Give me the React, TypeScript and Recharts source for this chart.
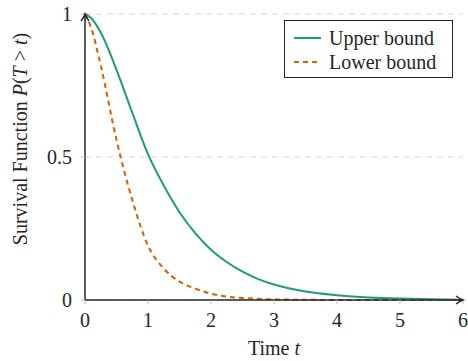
import {
  LineChart,
  Line,
  XAxis,
  YAxis,
  CartesianGrid,
  ReferenceDot,
  Label,
} from "recharts";

// time points (t) and survival values
const times = [0, 0.1, 0.25, 0.5, 0.75, 1, 1.25, 1.5, 1.75, 2, 2.25, 2.5, 2.75, 3, 3.5, 4, 4.5, 5, 5.5, 6];
const upperBound = [1, 0.985, 0.935, 0.805, 0.655, 0.51, 0.4, 0.307, 0.234, 0.176, 0.133, 0.099, 0.073, 0.054, 0.03, 0.017, 0.009, 0.005, 0.003, 0.001];
const lowerBound = [1, 0.95, 0.82, 0.56, 0.35, 0.19, 0.11, 0.064, 0.04, 0.022, 0.012, 0.007, 0.004, 0.002, 0.001, 0, 0, 0, 0, 0];

const xTicks = [0, 1, 2, 3, 4, 5, 6];
const yTicks = [0, 0.5, 1];

const GREEN = "#1b9e77";
const ORANGE = "#d95f02";
const INK = "#262626";
const FONT = "'Liberation Serif', 'DejaVu Serif', serif";

const data = times.map((t, i) => ({ t, upper: upperBound[i], lower: lowerBound[i] }));

const RightArrow = ({ cx, cy }: any) => (
  <path
    d={`M ${cx - 7} ${cy - 4} Q ${cx - 3} ${cy - 1} ${cx} ${cy} Q ${cx - 3} ${cy + 1} ${cx - 7} ${cy + 4}`}
    fill="none"
    stroke={INK}
    strokeWidth={1.4}
  />
);

const UpArrow = ({ cx, cy }: any) => (
  <path
    d={`M ${cx - 4} ${cy + 7} Q ${cx - 1} ${cy + 3} ${cx} ${cy} Q ${cx + 1} ${cy + 3} ${cx + 4} ${cy + 7}`}
    fill="none"
    stroke={INK}
    strokeWidth={1.4}
  />
);

const XLabel = ({ viewBox }: any) => (
  <text
    x={viewBox.x + viewBox.width / 2}
    y={355}
    textAnchor="middle"
    fontFamily={FONT}
    fontSize={20}
    fill={INK}
  >
    Time <tspan fontStyle="italic">t</tspan>
  </text>
);

const YLabel = () => (
  <text
    transform="translate(27,139) rotate(-90)"
    textAnchor="middle"
    fontFamily={FONT}
    fontSize={20}
    fill={INK}
  >
    Survival Function <tspan fontStyle="italic">P</tspan>(<tspan fontStyle="italic">T</tspan> {">"}{" "}
    <tspan fontStyle="italic">t</tspan>)
  </text>
);

function LegendBox() {
  const row = (color: string, dash: string | undefined, text: string) => (
    <div style={{ display: "flex", alignItems: "center", height: 24 }}>
      <svg width={36} height={10}>
        <line x1={1} y1={5} x2={28} y2={5} stroke={color} strokeWidth={2} strokeDasharray={dash} />
      </svg>
      <span>{text}</span>
    </div>
  );
  return (
    <div
      style={{
        position: "absolute",
        left: 284,
        top: 20,
        width: 169,
        height: 58,
        border: `1px solid ${INK}`,
        background: "#fff",
        fontFamily: FONT,
        fontSize: 20,
        color: INK,
        padding: "5px 0 0 8px",
        boxSizing: "border-box",
        lineHeight: "24px",
      }}
    >
      {row(GREEN, undefined, "Upper bound")}
      {row(ORANGE, "5 4", "Lower bound")}
    </div>
  );
}

export default function App() {
  return (
    <div style={{ position: "absolute", left: 0, top: 0, width: 468, height: 361, background: "#fff" }}>
      <LineChart width={468} height={361} data={data} margin={{ top: 14, right: 5, bottom: 0, left: 0 }}>
        <CartesianGrid horizontal vertical={false} stroke="#d4d4d4" strokeDasharray="6 5" />
        <XAxis
          dataKey="t"
          type="number"
          domain={[0, 6]}
          ticks={xTicks}
          height={61}
          tickSize={4}
          tickMargin={9}
          axisLine={{ stroke: INK, strokeWidth: 1.5 }}
          tickLine={{ stroke: "#bbb" }}
          tick={{ fill: INK, fontSize: 20, fontFamily: FONT }}
        >
          <Label content={<XLabel />} />
        </XAxis>
        <YAxis
          type="number"
          domain={[0, 1]}
          ticks={yTicks}
          width={85}
          tickSize={4}
          tickMargin={9}
          axisLine={{ stroke: INK, strokeWidth: 1.5 }}
          tickLine={{ stroke: "#bbb" }}
          tick={{ fill: INK, fontSize: 20, fontFamily: FONT }}
          tickFormatter={(v: number) => String(v)}
        >
          <Label content={<YLabel />} />
        </YAxis>
        <Line
          type="monotone"
          dataKey="upper"
          stroke={GREEN}
          strokeWidth={2}
          dot={false}
          isAnimationActive={false}
        />
        <Line
          type="monotone"
          dataKey="lower"
          stroke={ORANGE}
          strokeWidth={2}
          strokeDasharray="5 4"
          dot={false}
          isAnimationActive={false}
        />
        <ReferenceDot x={6} y={0} ifOverflow="visible" shape={<RightArrow />} />
        <ReferenceDot x={0} y={1} ifOverflow="visible" shape={<UpArrow />} />
      </LineChart>
      <LegendBox />
    </div>
  );
}
